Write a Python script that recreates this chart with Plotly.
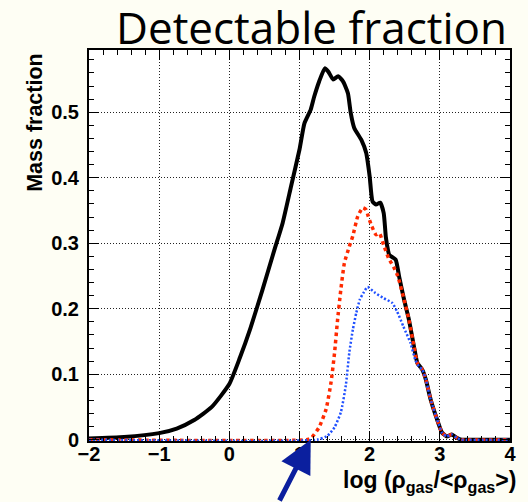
import plotly.graph_objects as go

# ---- data ----
x_black = [-2.0, -1.5, -1.0, -0.75, -0.5, -0.25, 0.0, 0.15, 0.3, 0.47, 0.64, 0.76, 0.88, 1.0, 1.07,
           1.16, 1.21, 1.28, 1.36, 1.41, 1.48, 1.55, 1.62, 1.69, 1.73, 1.78, 1.88, 1.95, 2.0,
           2.04, 2.09, 2.15, 2.2, 2.23, 2.26, 2.28, 2.37, 2.42, 2.49, 2.56, 2.63, 2.68, 2.75,
           2.8, 2.87, 2.96, 3.03, 3.1, 3.17, 3.24, 3.31, 3.5, 4.0]
y_black = [0.002, 0.004, 0.010, 0.017, 0.030, 0.050, 0.085, 0.125, 0.170, 0.228, 0.289, 0.331, 0.387,
           0.443, 0.483, 0.504, 0.524, 0.547, 0.567, 0.562, 0.550, 0.555, 0.547, 0.529, 0.499,
           0.476, 0.458, 0.438, 0.402, 0.364, 0.359, 0.362, 0.346, 0.310, 0.290, 0.282, 0.275,
           0.249, 0.214, 0.183, 0.143, 0.117, 0.107, 0.092, 0.061, 0.031, 0.011, 0.005, 0.008,
           0.003, 0.0, 0.0, 0.0]

x_red = [-2.0, 1.1, 1.17, 1.28, 1.38, 1.45, 1.50, 1.54, 1.59, 1.64, 1.71, 1.76, 1.83, 1.90, 1.95,
         1.98, 2.03, 2.09, 2.14, 2.20, 2.27, 2.34, 2.40, 2.49, 2.56, 2.63, 2.68, 2.75, 2.80,
         2.87, 2.96, 3.03, 3.10, 3.17, 3.24, 3.31, 4.0]
y_red = [0.0, 0.0, 0.003, 0.019, 0.047, 0.088, 0.133, 0.180, 0.230, 0.270, 0.295, 0.311, 0.341,
         0.354, 0.351, 0.341, 0.326, 0.313, 0.315, 0.297, 0.277, 0.264, 0.250, 0.214, 0.183,
         0.143, 0.117, 0.107, 0.092, 0.061, 0.031, 0.011, 0.005, 0.008, 0.003, 0.0, 0.0]

x_blue = [-2.0, 1.25, 1.40, 1.50, 1.59, 1.66, 1.71, 1.76, 1.81, 1.86, 1.91, 1.97, 2.08, 2.20, 2.32,
          2.39, 2.48, 2.58, 2.65, 2.70, 2.75, 2.80, 2.87, 2.96, 3.03, 3.10, 3.17, 3.24, 3.31, 4.0]
y_blue = [0.0, 0.0, 0.006, 0.019, 0.042, 0.083, 0.133, 0.168, 0.194, 0.214, 0.224, 0.233, 0.224,
          0.216, 0.209, 0.196, 0.173, 0.148, 0.122, 0.112, 0.107, 0.092, 0.061, 0.031, 0.011,
          0.005, 0.008, 0.003, 0.0, 0.0]

x_ticks = [-2, -1, 0, 1, 2, 3, 4]
y_ticks = [0, 0.1, 0.2, 0.3, 0.4, 0.5]
y_tick_labels = ["0", "0.1", "0.2", "0.3", "0.4", "0.5"]

title_text = "Detectable fraction"
x_title = "log (ρ<sub>gas</sub>/&lt;ρ<sub>gas</sub>&gt;)"
y_title = "Mass fraction"
arrow_x, arrow_y = 1.16, 0.0

# ---- figure ----
fig = go.Figure()
fig.add_trace(go.Scatter(x=x_black, y=y_black, mode="lines",
                         line=dict(color="black", width=4, shape="spline", smoothing=0.5)))
fig.add_trace(go.Scatter(x=x_red, y=y_red, mode="lines",
                         line=dict(color="#ff2a00", width=3.5, dash="3.5px,3.5px",
                                   shape="spline", smoothing=0.5)))
fig.add_trace(go.Scatter(x=x_blue, y=y_blue, mode="lines",
                         line=dict(color="#2050ff", width=2.5, dash="2px,2px",
                                   shape="spline", smoothing=0.5)))

tickfont = dict(family="Liberation Sans", size=20, color="black", weight="bold")
fig.update_xaxes(range=[-2, 4], tickvals=x_ticks, ticks="inside", ticklen=10, tickwidth=1,
                 ticklabelstandoff=-6,
                 tickcolor="black", showline=True, linecolor="black", linewidth=2,
                 mirror="ticks", showgrid=True, gridcolor="#222", gridwidth=1,
                 griddash="1px,2px", zeroline=False, tickfont=tickfont,
                 minor=dict(dtick=0.2, ticks="inside", ticklen=5, tickcolor="black",
                            showgrid=False))
fig.update_yaxes(range=[-0.002, 0.595], tickvals=y_ticks, ticktext=y_tick_labels,
                 ticks="inside", ticklen=10, tickwidth=1, ticklabelstandoff=4,
                 tickcolor="black", showline=True, linecolor="black", linewidth=2,
                 mirror="ticks", showgrid=True, gridcolor="#222", gridwidth=1,
                 griddash="1px,2px", zeroline=False, tickfont=tickfont,
                 minor=dict(dtick=0.02, tick0=0, ticks="inside", ticklen=5, tickcolor="black",
                            showgrid=False))

fig.add_annotation(text=title_text, x=0.528, y=1.06, xref="paper", yref="paper",
                   xanchor="center", yanchor="middle", showarrow=False,
                   font=dict(family="Open Sans", size=44, color="black"))
fig.add_annotation(text=x_title, x=1.0, y=-0.062, xref="paper", yref="paper",
                   xanchor="right", yanchor="top", showarrow=False, xshift=8,
                   font=dict(family="Liberation Sans", size=23, color="black", weight="bold"))
fig.add_annotation(text=y_title, x=-0.127, y=0.815, xref="paper", yref="paper",
                   xanchor="center", yanchor="middle", textangle=-90, showarrow=False,
                   font=dict(family="Liberation Sans", size=21.5, color="black", weight="bold"))
fig.add_annotation(text="", x=arrow_x, y=arrow_y, xref="x", yref="y",
                   ax=-32, ay=64, showarrow=True, arrowhead=2, arrowsize=1.3,
                   arrowwidth=5, arrowcolor="#0b1f9e", standoff=0)

fig.update_layout(width=528, height=502, showlegend=False,
                  margin=dict(l=89, r=13, t=50, b=61),
                  paper_bgcolor="#fefef4", plot_bgcolor="white")

fig.write_html("out.html", config={"displayModeBar": False},
               post_script="document.body.style.margin='0';")
